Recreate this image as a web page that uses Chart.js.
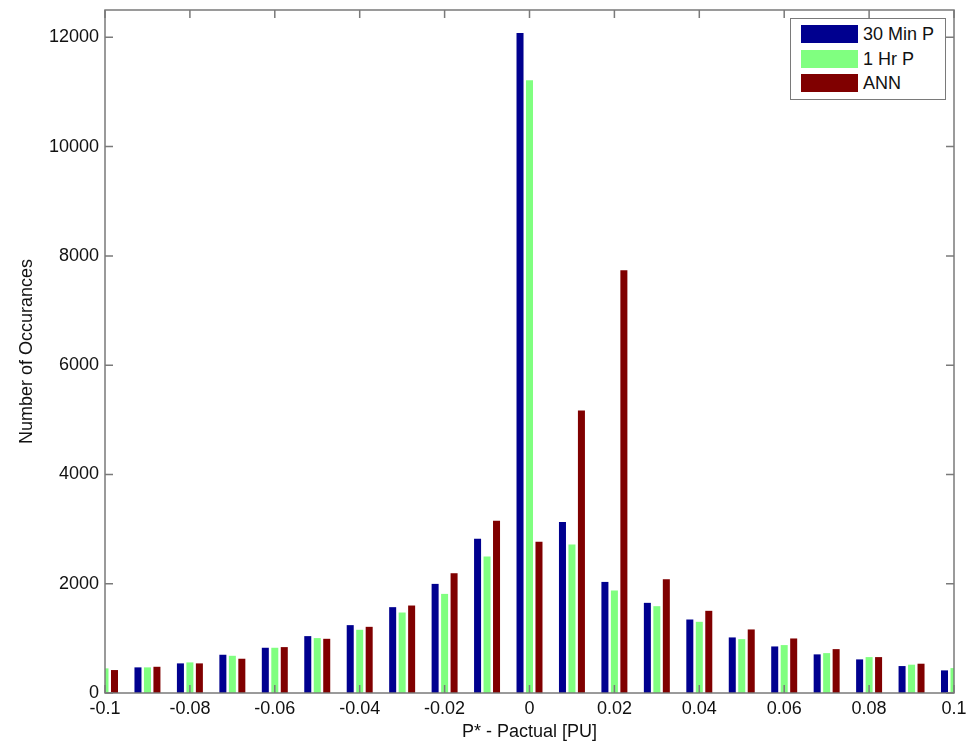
<!DOCTYPE html>
<html>
<head>
<meta charset="utf-8">
<script src="https://cdn.jsdelivr.net/npm/chart.js@4"></script>
<style>
    body { margin: 0; background: #fff; }
    #wrap { position: relative; width: 979px; height: 743px; }
    #leyenda {
        position: absolute; left: 790px; top: 18px; width: 154px; height: 80px;
        border: 1px solid #7a7a7a; background: #fff;
        font-family: "Liberation Sans", Arial, sans-serif; font-size: 18px; color: #111;
    }
    .fila { position: absolute; left: 10px; height: 19px; line-height: 19px; white-space: nowrap; }
    .fila span.sw { display: inline-block; width: 57px; height: 18px; vertical-align: top; margin-right: 5px; }
</style>
</head>
<body>
<div id="wrap">
    <canvas id="chartHist" width="979" height="743"></canvas>
    <div id="leyenda"></div>
</div>
<script>
// Datos del histograma
const binCenters = [-0.1, -0.09, -0.08, -0.07, -0.06, -0.05, -0.04, -0.03, -0.02, -0.01, 0,
                    0.01, 0.02, 0.03, 0.04, 0.05, 0.06, 0.07, 0.08, 0.09, 0.1];
const min30 = [430, 469, 542, 700, 828, 1041, 1242, 1571, 1997, 2825, 12079,
               3130, 2033, 1650, 1345, 1017, 852, 707, 615, 493, 414];
const hr1 = [451, 469, 560, 681, 828, 1005, 1157, 1473, 1814, 2497, 11215,
             2716, 1876, 1589, 1303, 986, 877, 730, 657, 518, 456];
const ann = [420, 480, 542, 627, 840, 992, 1211, 1601, 2192, 3154, 2770,
             5169, 7739, 2082, 1504, 1163, 998, 803, 657, 536, 440];
const seriesNames = ['30 Min P', '1 Hr P', 'ANN'];
const seriesColors = ['#00008f', '#80ff80', '#800000'];
const xTicks = [-0.1, -0.08, -0.06, -0.04, -0.02, 0, 0.02, 0.04, 0.06, 0.08, 0.1];
const yTicks = [0, 2000, 4000, 6000, 8000, 10000, 12000];

const FONT = '"Liberation Sans", Arial, sans-serif';
const AXIS_COLOR = '#7a7a7a';

function toPoints(vals) {
    return binCenters.map((x, i) => ({ x: x, y: vals[i] }));
}

// caja estilo MATLAB con ticks hacia adentro
const cajaPlugin = {
    id: 'caja',
    afterDatasetsDraw(chart) {
        const { ctx, chartArea: a, scales } = chart;
        const len = 8;
        ctx.save();
        ctx.strokeStyle = AXIS_COLOR;
        ctx.lineWidth = 1.5;
        ctx.strokeRect(a.left, a.top, a.right - a.left, a.bottom - a.top);
        ctx.beginPath();
        xTicks.forEach(v => {
            const px = scales.x.getPixelForValue(v);
            ctx.moveTo(px, a.bottom); ctx.lineTo(px, a.bottom - len);
            ctx.moveTo(px, a.top); ctx.lineTo(px, a.top + len);
        });
        yTicks.forEach(v => {
            const py = scales.y.getPixelForValue(v);
            ctx.moveTo(a.left, py); ctx.lineTo(a.left + len, py);
            ctx.moveTo(a.right, py); ctx.lineTo(a.right - len, py);
        });
        ctx.stroke();
        ctx.restore();
    }
};

const datasets = [min30, hr1, ann].map((vals, i) => ({
    label: seriesNames[i],
    data: toPoints(vals),
    backgroundColor: seriesColors[i],
    borderWidth: 0,
    categoryPercentage: 0.67,
    barPercentage: 0.74,
    clip: 0
}));

window.chartHistInstance = new Chart(document.getElementById('chartHist'), {
    type: 'bar',
    data: { datasets: datasets },
    options: {
        responsive: false,
        animation: false,
        devicePixelRatio: 1,
        layout: { padding: { left: 0, top: 10, right: 25, bottom: 0 } },
        scales: {
            x: {
                type: 'linear',
                min: -0.1,
                max: 0.1,
                offset: false,
                afterBuildTicks: s => { s.ticks = xTicks.map(v => ({ value: v })); },
                afterFit: s => { s.height = 50; s.paddingLeft = 0; s.paddingRight = 0; },
                grid: { display: false, drawTicks: false },
                border: { display: false },
                ticks: {
                    padding: 5,
                    color: '#111',
                    font: { family: FONT, size: 18 },
                    maxRotation: 0,
                    autoSkip: false,
                    callback: v => Number(v.toFixed(2)).toString()
                },
                title: {
                    display: true,
                    text: 'P* - Pactual [PU]',
                    color: '#111',
                    font: { family: FONT, size: 18 },
                    padding: 0
                }
            },
            y: {
                min: 0,
                max: 12500,
                afterBuildTicks: s => { s.ticks = yTicks.map(v => ({ value: v })); },
                afterFit: s => { s.width = 105; s.paddingTop = 0; s.paddingBottom = 0; },
                grid: { display: false, drawTicks: false },
                border: { display: false },
                ticks: {
                    padding: 6,
                    color: '#111',
                    font: { family: FONT, size: 18 },
                    callback: v => String(v)
                },
                title: {
                    display: true,
                    text: 'Number of Occurances',
                    color: '#111',
                    font: { family: FONT, size: 18 },
                    padding: { top: 16, bottom: 0 }
                }
            }
        },
        plugins: {
            legend: { display: false },
            tooltip: { enabled: false }
        }
    },
    plugins: [cajaPlugin]
});

// leyenda HTML dentro del área del gráfico
const leyenda = document.getElementById('leyenda');
seriesNames.forEach((name, i) => {
    const fila = document.createElement('div');
    fila.className = 'fila';
    fila.style.top = (6 + i * 24.5) + 'px';
    fila.innerHTML = '<span class="sw" style="background:' + seriesColors[i] + '"></span>' + name;
    leyenda.appendChild(fila);
});
</script>
</body>
</html>
